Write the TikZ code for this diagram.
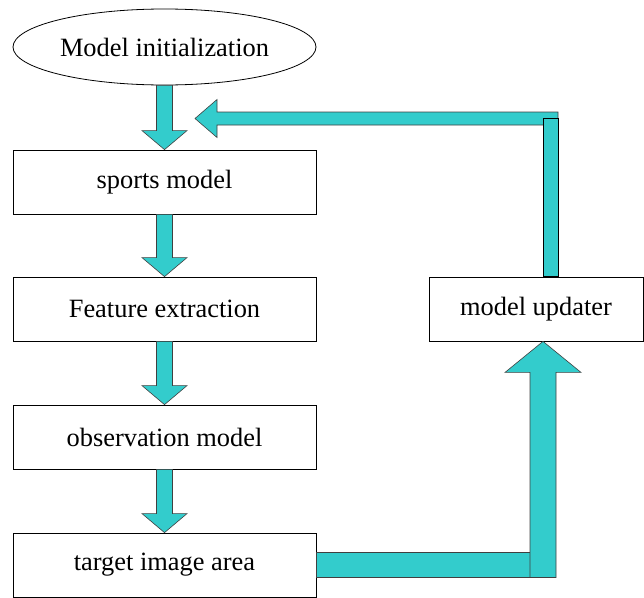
\documentclass[tikz,border=0pt]{standalone}
\usepackage{fontspec}
\setmainfont{Liberation Serif}
\usetikzlibrary{calc, shapes.geometric}
\definecolor{flowcol}{RGB}{51,204,204}
\tikzset{
	stage/.style={draw, line width=0.8pt, minimum width=303pt, minimum height=64pt, inner sep=0pt, font=\fontsize{26.4}{30}\selectfont},
	start/.style={stage, ellipse, minimum height=76pt},
	flow/.style={fill=flowcol, draw=black!75, line width=0.6pt, line join=miter},
}

\begin{document}
\begin{tikzpicture}[x=1pt, y=-1pt]
		\useasboundingbox (0,0) rectangle (644,597);
		\def\sw{8}; % half shaft
		\def\hw{22.5}; % half head
		\def\hl{19}; % head length
		
		\node [start] (init) at (164.5,47) {Model initialization};
		\node [stage] (sports) at (164.5,182) {sports model};
		\node [stage] (feat) at (164.5,309) {Feature extraction};
		\node [stage] (obs) at (164.5,437) {observation model};
		\node [stage] (target) at (164.5,565) {target image area};
		\node [stage, minimum width=214pt] (updater) at (536,309) {model updater};
		\coordinate (back) at (195,118.5);
		
		\foreach \a/\b in {init/sports, sports/feat, feat/obs, obs/target}
			\draw [flow] let \p1=(\a.south), \p2=(\b.north) in
				(\x2-\sw pt,\y1) -- (\x2+\sw pt,\y1) -- (\x2+\sw pt,\y2+\hl pt) -- (\x2+\hw pt,\y2+\hl pt)
				-- (\p2) -- (\x2-\hw pt,\y2+\hl pt) -- (\x2-\sw pt,\y2+\hl pt) -- cycle;
		
		% target -> updater
		\draw [flow] let \p1=(target.east), \p2=(updater.south) in
			(\x1,\y1+12.5pt) rectangle (\x2-6pt,\y1-12.5pt);
		\draw [flow] let \p1=(target.east), \p2=(updater.south) in
			(\x2-6pt,\y1-12.5pt) -- (\x2-6pt,\y2-31pt) -- (\x2-31pt,\y2-31pt) -- (\x2+7pt,\y2)
			-- (\x2+45pt,\y2-31pt) -- (\x2+20pt,\y2-31pt) -- (\x2+20pt,\y1-12.5pt) -- cycle;
		
		% updater -> back
		\draw [flow] let \p1=(back), \p2=(updater.north) in
			(\p1) -- (\x1+22pt,\y1+19pt) -- (\x1+22pt,\y1+6.5pt) -- (\x2+22pt,\y1+6.5pt)
			-- (\x2+22pt,\y1-6.5pt) -- (\x1+22pt,\y1-6.5pt) -- (\x1+22pt,\y1-19pt) -- cycle;
		\draw [flow, draw=black, line width=1pt] let \p1=(back), \p2=(updater.north) in
			(\x2+7pt,\y1) rectangle (\x2+22pt,\y2);
	\end{tikzpicture}
\end{document}
